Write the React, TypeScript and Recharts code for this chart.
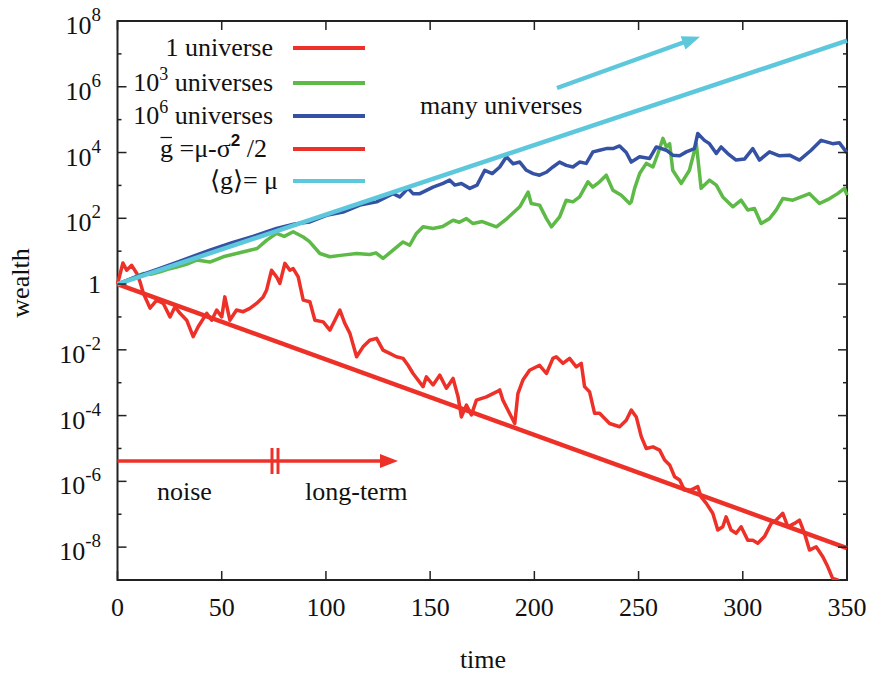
import React from "react";
import { LineChart, Line, XAxis, YAxis, ReferenceArea } from "recharts";

// values as [time, log10(wealth)]
const ONE_UNIVERSE: [number, number][] = [
  [0, 0], [2.6, 0.64], [4.4, 0.42], [6.8, 0.57], [9.2, 0.33], [10.8, 0.07], [12.4, -0.28],
  [15.6, -0.73], [18.8, -0.49], [22, -0.59], [25.2, -1.0], [27.6, -0.69], [30, -0.89],
  [33.2, -1.1], [36.3, -1.6], [38.7, -1.3], [42.8, -0.89], [45.2, -1.1], [47.6, -0.79],
  [50, -1.0], [51.5, -0.39], [53.9, -1.1], [57.1, -0.79], [60.3, -0.84], [63.5, -0.74],
  [66.7, -0.59], [69.9, -0.39], [71.5, -0.19], [73.9, 0.42], [76.3, 0.22], [77.9, 0.02],
  [80.3, 0.63], [82.7, 0.42], [84.3, 0.47], [86.7, 0.22], [89.1, -0.49], [92.3, -0.54],
  [94.7, -1.1], [98.7, -1.15], [101.9, -1.4], [104.3, -1.1], [106.7, -0.79], [109.1, -1.2],
  [111.5, -1.5], [114.7, -2.21], [117.8, -1.91], [121, -1.71], [124.3, -1.65], [127.4, -2.01],
  [130.6, -2.11], [133.8, -2.21], [137, -2.26], [139.4, -2.47], [141.8, -2.72], [146.6, -3.12],
  [148.2, -2.82], [151.4, -3.07], [154.6, -2.77], [157.8, -3.17], [161, -2.87], [163.4, -3.43],
  [165, -4.04], [167.4, -3.68], [169.8, -3.98], [172.2, -3.53], [177, -3.43], [181.8, -3.28],
  [183.4, -3.22], [184.9, -3.53], [187.3, -3.83], [190.6, -4.24], [192.1, -3.33], [194.5, -2.92],
  [197.7, -2.62], [202.5, -2.47], [205.8, -2.72], [208.9, -2.26], [210.5, -2.21], [213.7, -2.41],
  [216.9, -2.26], [220.1, -2.52], [222.5, -2.41], [224.1, -3.12], [226.5, -3.28], [228.9, -3.93],
  [231.3, -3.93], [236.1, -4.24], [240.9, -4.34], [244.1, -4.14], [246.5, -3.83], [248.9, -4.04],
  [251.3, -4.64], [253.7, -5.0], [256.9, -4.95], [260.1, -5.05], [262.5, -5.35], [264.9, -5.5],
  [267.3, -5.86], [269.7, -5.96], [272, -6.26], [275.3, -6.26], [278.4, -6.16], [280, -6.47],
  [282.5, -6.67], [285.6, -6.97], [288, -7.48], [290.4, -7.38], [292, -7.08], [294.4, -7.48],
  [296.8, -7.58], [299.2, -7.38], [302.4, -7.79], [304.8, -7.79], [307.2, -7.88], [310.4, -7.68],
  [313.6, -7.28], [316, -7.18], [319.2, -6.97], [321.6, -7.38], [324.8, -7.28], [327.2, -7.18],
  [329.6, -7.58], [332, -8.09], [335.2, -7.99], [338.4, -8.29], [340.8, -8.6], [343.1, -8.95],
  [345.5, -9.0], [347.5, -9.2],
];

const THOUSAND_UNIVERSES: [number, number][] = [
  [0, 0], [4, 0.1], [8, 0.2], [12.4, 0.32], [16, 0.3], [20.4, 0.37], [24, 0.45], [28.4, 0.52],
  [33, 0.6], [38, 0.73], [44.3, 0.67], [50.7, 0.83], [57.1, 0.93], [63.5, 1.03], [67, 1.08],
  [71.5, 1.33], [76.3, 1.54], [80, 1.45], [84.3, 1.59], [89.1, 1.43], [92, 1.3], [97.1, 0.93],
  [101.9, 0.83], [108, 0.88], [114.7, 0.93], [121, 0.9], [124, 0.95], [127.4, 0.78], [132.2, 1.03],
  [137, 1.28], [140.2, 1.18], [143.4, 1.54], [146.6, 1.74], [151.4, 1.69], [156, 1.75], [161, 1.94],
  [164, 1.88], [167.4, 1.99], [170.6, 1.84], [175, 1.9], [181.8, 1.74], [187, 2.0], [193, 2.35],
  [197, 2.8], [198.5, 2.45], [202.5, 2.4], [205.8, 1.99], [208.2, 1.74], [212.1, 2.04], [215.3, 2.55],
  [218.5, 2.5], [221.7, 2.65], [225.7, 3.11], [228, 2.95], [231.3, 3.11], [234.5, 3.31], [237.7, 2.85],
  [241.7, 2.7], [245.7, 2.45], [246.5, 2.5], [248.1, 2.91], [250.5, 3.36], [253.7, 3.67], [256.9, 3.56],
  [259.3, 3.97], [261.7, 4.43], [263.3, 4.17], [264.9, 4.27], [266.4, 3.46], [270.5, 3.06], [274.4, 3.46],
  [277.7, 4.27], [280, 2.91], [284, 3.16], [287.3, 3.01], [290.4, 2.65], [295.2, 2.35], [299.2, 2.55],
  [302.4, 2.25], [305.6, 2.3], [308.8, 1.84], [312.8, 1.99], [316, 2.25], [319.2, 2.6], [324, 2.55],
  [328, 2.65], [332, 2.75], [336.8, 2.45], [341.7, 2.6], [345.5, 2.75], [348.8, 2.91], [350, 2.7],
];

const MILLION_UNIVERSES: [number, number][] = [
  [0, 0], [10, 0.25], [20, 0.47], [30, 0.7], [44.3, 1.03], [55, 1.26], [65, 1.45], [76.3, 1.69],
  [85, 1.83], [92.3, 1.89], [100.3, 2.09], [108.2, 2.19], [116.3, 2.4], [124.3, 2.5], [132.2, 2.75],
  [135.4, 2.65], [139.4, 2.91], [141.8, 2.75], [145, 2.75], [151.4, 2.95], [156.2, 3.06], [159.4, 3.16],
  [161.8, 3.01], [165, 3.06], [169, 2.91], [172.5, 3.01], [176.2, 3.46], [179.8, 3.36], [183.4, 3.56],
  [186.6, 3.87], [189.8, 3.66], [193, 3.71], [196.2, 3.46], [199.4, 3.36], [202.5, 3.31], [205.7, 3.4],
  [208.9, 3.56], [212.1, 3.71], [215.3, 3.61], [218.5, 3.56], [221.7, 3.71], [224.9, 3.67], [228.1, 4.02],
  [231.3, 4.07], [234.5, 4.12], [237.7, 4.12], [240.9, 4.2], [244.1, 4.0], [246.5, 3.71], [250.5, 3.87],
  [255.3, 3.82], [258.5, 4.17], [263.3, 4.07], [266.4, 3.92], [269.7, 3.9], [272.9, 4.02], [276.8, 4.12],
  [278.4, 4.58], [281.6, 4.37], [284, 4.27], [287.3, 3.97], [289.6, 4.17], [292.8, 3.97], [296.8, 3.77],
  [300.8, 3.8], [304.8, 4.12], [308, 3.77], [312.8, 4.02], [317.6, 3.9], [322.4, 3.92], [327.2, 3.77],
  [332.8, 4.07], [337.6, 4.37], [343.1, 4.27], [346.3, 4.3], [349.6, 4.02], [350, 4.0],
];

const TIME_AVERAGE_LINE: [number, number][] = [[0, 0], [350, -8.03]];
const ENSEMBLE_LINE: [number, number][] = [[0, 0], [350, 7.4]];

const X_TICKS = [0, 50, 100, 150, 200, 250, 300, 350];
const Y_EXPONENTS = [-9, -8, -7, -6, -5, -4, -3, -2, -1, 0, 1, 2, 3, 4, 5, 6, 7, 8];

const RED = "#ee3128";
const GREEN = "#5dba47";
const BLUE = "#3551a3";
const CYAN = "#5dc7dc";
const AXIS = "#222";
const FONT = "'Liberation Serif', 'Times New Roman', serif";

const W = 871;
const H = 673;
const PLOT_LEFT = 117.5;
const PLOT_RIGHT = 847;
const PLOT_TOP = 21;
const PLOT_BOTTOM = 580;

const toPoints = (pairs: [number, number][]) =>
  pairs.map(([t, lg]) => ({ t, wealth: Math.pow(10, lg) }));

const YTick = (props: any) => {
  const { payload } = props;
  const y = payload.coordinate;
  const exp = Math.round(Math.log10(payload.value));
  const major = exp % 2 === 0;
  const len = major ? 9 : 4;
  return (
    <g>
      <line x1={PLOT_LEFT} x2={PLOT_LEFT + len} y1={y} y2={y} stroke={AXIS} strokeWidth={1.5} />
      <line x1={PLOT_RIGHT} x2={PLOT_RIGHT - len} y1={y} y2={y} stroke={AXIS} strokeWidth={1.5} />
      {major &&
        (exp === 0 ? (
          <text x={101} y={y + 9} textAnchor="end" fontFamily={FONT} fontSize={26} fill="#111">
            1
          </text>
        ) : (
          <text x={101} y={y + 13} textAnchor="end" fontFamily={FONT} fontSize={26} fill="#111">
            10
            <tspan dy={-13} fontSize={19}>
              {exp}
            </tspan>
          </text>
        ))}
    </g>
  );
};

const XTick = (props: any) => {
  const { payload } = props;
  const x = payload.coordinate;
  return (
    <g>
      <line x1={x} x2={x} y1={PLOT_BOTTOM} y2={PLOT_BOTTOM - 9} stroke={AXIS} strokeWidth={1.5} />
      <line x1={x} x2={x} y1={PLOT_TOP} y2={PLOT_TOP + 9} stroke={AXIS} strokeWidth={1.5} />
      <text x={x} y={PLOT_BOTTOM + 36} textAnchor="middle" fontFamily={FONT} fontSize={26} fill="#111">
        {payload.value}
      </text>
    </g>
  );
};

export default function App() {
  return (
    <div style={{ position: "absolute", left: 0, top: 0, width: W, height: H, background: "#fff" }}>
      <LineChart
        width={W}
        height={H}
        margin={{ top: PLOT_TOP, right: W - PLOT_RIGHT, bottom: H - PLOT_BOTTOM - 60, left: PLOT_LEFT - 100 }}
      >
        <XAxis
          dataKey="t"
          type="number"
          domain={[0, 350]}
          ticks={X_TICKS}
          interval={0}
          height={60}
          axisLine={false}
          tickLine={false}
          tick={<XTick />}
        />
        <YAxis
          type="number"
          scale="log"
          domain={[1e-9, 1e8]}
          allowDataOverflow
          ticks={Y_EXPONENTS.map((e) => Math.pow(10, e))}
          interval={0}
          width={100}
          axisLine={false}
          tickLine={false}
          tick={<YTick />}
        />
        <Line data={toPoints(ONE_UNIVERSE)} dataKey="wealth" stroke={RED} strokeWidth={3.5} dot={false} isAnimationActive={false} strokeLinejoin="round" />
        <Line data={toPoints(THOUSAND_UNIVERSES)} dataKey="wealth" stroke={GREEN} strokeWidth={3.5} dot={false} isAnimationActive={false} strokeLinejoin="round" />
        <Line data={toPoints(MILLION_UNIVERSES)} dataKey="wealth" stroke={BLUE} strokeWidth={3.5} dot={false} isAnimationActive={false} strokeLinejoin="round" />
        <Line data={toPoints(TIME_AVERAGE_LINE)} dataKey="wealth" stroke={RED} strokeWidth={4.5} dot={false} isAnimationActive={false} />
        <Line data={toPoints(ENSEMBLE_LINE)} dataKey="wealth" stroke={CYAN} strokeWidth={4.5} dot={false} isAnimationActive={false} />
        <ReferenceArea x1={0} x2={350} y1={1e-9} y2={1e8} fill="none" fillOpacity={0} stroke={AXIS} strokeWidth={2} />
      </LineChart>

      <svg width={W} height={H} style={{ position: "absolute", left: 0, top: 0, pointerEvents: "none" }}>
        <g fontFamily={FONT} fontSize={26} fill="#111">
          {/* legend */}
          <text x={273} y={56} textAnchor="end">1 universe</text>
          <text x={273} y={91} textAnchor="end">
            10<tspan dy={-11} fontSize={18}>3</tspan><tspan dy={11}> universes</tspan>
          </text>
          <text x={273} y={124} textAnchor="end">
            10<tspan dy={-11} fontSize={18}>6</tspan><tspan dy={11}> universes</tspan>
          </text>
          <text x={160} y={157}>
            g =μ-σ
            <tspan dy={-11} fontSize={17} fontWeight="bold" fontFamily="'Liberation Sans', sans-serif">2</tspan>
            <tspan dy={11}> /2</tspan>
          </text>
          <line x1={160.5} x2={172} y1={137.5} y2={137.5} stroke="#111" strokeWidth={1.2} />
          <text x={278} y={189} textAnchor="end">{"\u27E8g\u27E9= \u03BC"}</text>
          <line x1={293} x2={365} y1={48} y2={48} stroke={RED} strokeWidth={4} />
          <line x1={293} x2={365} y1={83} y2={83} stroke={GREEN} strokeWidth={4} />
          <line x1={293} x2={365} y1={116} y2={116} stroke={BLUE} strokeWidth={4} />
          <line x1={293} x2={365} y1={149} y2={149} stroke={RED} strokeWidth={4} />
          <line x1={293} x2={365} y1={181} y2={181} stroke={CYAN} strokeWidth={4} />

          <text transform="translate(29,283) rotate(-90)" textAnchor="middle">wealth</text>
          <text x={483} y={668} textAnchor="middle">time</text>
          <text x={420} y={114}>many universes</text>
          <text x={157} y={500}>noise</text>
          <text x={305} y={500}>long-term</text>
        </g>
        {/* ensemble arrow */}
        <line x1={557} y1={88} x2={686} y2={41.5} stroke={CYAN} strokeWidth={4.5} />
        <polygon points="700,36.7 685.5,49.4 680.7,36.2" fill={CYAN} />
        {/* time arrow with break */}
        <line x1={PLOT_LEFT} y1={461} x2={384} y2={461} stroke={RED} strokeWidth={3.5} />
        <polygon points="398,461 380,454 380,468" fill={RED} />
        <line x1={272} y1={448} x2={272} y2={474} stroke={RED} strokeWidth={3} />
        <line x1={278} y1={448} x2={278} y2={474} stroke={RED} strokeWidth={3} />
      </svg>
    </div>
  );
}
